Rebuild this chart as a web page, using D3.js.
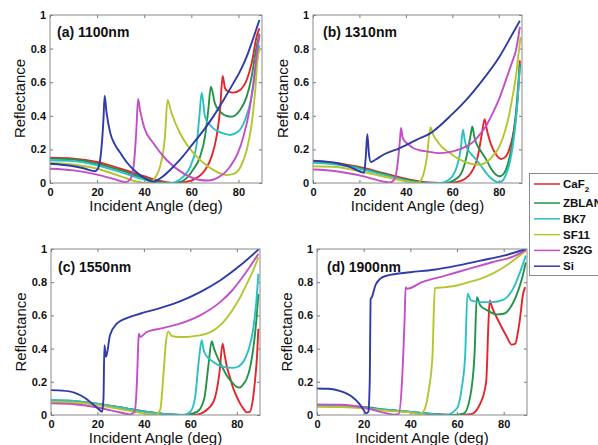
<!DOCTYPE html>
<html>
<head>
<meta charset="utf-8">
<script src="https://cdn.jsdelivr.net/npm/d3@7"></script>
<style>
  body { margin: 0; background: #fff; }
  svg { display: block; font-family: "Liberation Sans", Arial, sans-serif; }
  .tick text { font-weight: bold; font-size: 11px; fill: #111; }
  .tick line { stroke: #777; }
</style>
</head>
<body>
<div id="chart"></div>
<script>
let width = 598,
	height = 445;

// materials and their line colours
let materials = ["CaF2", "ZBLAN", "BK7", "SF11", "2S2G", "Si"];
let colors = ["#e3262d", "#23934a", "#2cc0c6", "#b5c52f", "#c34fc6", "#2f3ba6"];

let xTicks = [0, 20, 40, 60, 80];
let yTicks = [0, 0.2, 0.4, 0.6, 0.8, 1];

// [angle (deg), reflectance], one list per material
let panelA = [
	[[0,.15],[10,.145],[20,.125],[30,.085],[40,.04],[47,.012],[53,0],[57,.005],[61,.02],[65.8,.077],[68.6,.157],[70.7,.276],[72.2,.435],[73.3,.637],[74.3,.564],[75.7,.544],[77.8,.538],[80.7,.554],[83.5,.613],[85.6,.712],[87.7,.87],[88.9,.92]],
	[[0,.145],[10,.14],[20,.115],[30,.075],[40,.03],[47,.005],[52,0],[56,.01],[60.8,.08],[63.7,.157],[65.8,.276],[67.2,.435],[68.3,.573],[70,.474],[72.2,.425],[75,.399],[77.1,.395],[80.7,.435],[83.5,.514],[85.6,.633],[87.4,.79],[88.9,.89]],
	[[0,.135],[10,.13],[20,.105],[30,.065],[40,.02],[46,0],[51,0],[56.6,.038],[60.1,.117],[62.3,.236],[63.4,.395],[64.4,.537],[65.8,.395],[67.9,.345],[71.5,.306],[74.3,.292],[76.4,.286],[79.9,.306],[82.8,.375],[85.6,.514],[87.7,.712],[88.9,.82]],
	[[0,.12],[10,.11],[20,.085],[30,.04],[37,.008],[42.4,0],[45,.04],[46.7,.097],[48.8,.276],[49.9,.494],[51.5,.42],[55.2,.296],[58.5,.22],[62.3,.157],[66,.11],[69.3,.078],[72,.058],[75,.048],[78.5,.058],[81,.1],[83.5,.196],[85.5,.34],[87,.53],[88.4,.77],[89.3,.8]],
	[[0,.085],[10,.075],[20,.05],[28,.02],[32,.005],[34,.02],[35.5,.1],[36.6,.3],[37.4,.5],[38.2,.435],[40,.33],[43.9,.236],[49.5,.137],[56.6,.057],[63.7,.018],[67,.015],[70.7,.028],[76.4,.097],[79.5,.17],[82.1,.276],[84.5,.42],[86.3,.593],[88.4,.83],[89,.88]],
	[[0,.115],[10,.10],[15,.085],[19,.07],[20.5,.09],[21.8,.2],[22.7,.38],[23.2,.52],[24,.42],[25.6,.297],[27.5,.23],[29.9,.178],[32.5,.125],[35.5,.079],[38.5,.045],[41.2,.02],[43.9,.008],[47,.03],[52.4,.097],[56.5,.16],[60.8,.236],[65,.31],[69.3,.395],[73.5,.49],[77.8,.593],[80.5,.66],[83.5,.752],[86,.85],[88.9,.97]]
];

let panelB = [
	[[0,.13],[10,.12],[20,.095],[30,.06],[40,.025],[50,.003],[58,0],[63,.01],[68,.06],[71,.16],[72.8,.3],[73.9,.38],[75,.31],[76,.257],[78.9,.168],[81,.143],[83.1,.158],[84.5,.2],[86,.277],[87.2,.38],[88.1,.495],[89.1,.73]],
	[[0,.125],[10,.115],[20,.09],[30,.055],[40,.02],[50,0],[57,0],[63,.04],[66,.15],[67.8,.28],[68.6,.337],[69.4,.28],[70.3,.238],[72.5,.185],[74.6,.139],[76.5,.09],[78.1,.059],[80.3,.04],[81.8,.05],[83.1,.079],[84.6,.15],[86,.257],[87.2,.39],[88.1,.535],[89.1,.71]],
	[[0,.12],[10,.11],[20,.085],[30,.05],[40,.015],[48,0],[55,0],[58,.015],[60,.04],[62,.1],[63.6,.2],[64.6,.317],[65.3,.26],[66,.218],[68,.175],[70.3,.139],[72.5,.1],[74.6,.059],[77.4,.02],[80,.004],[81.7,.015],[83.1,.05],[84.7,.12],[86,.218],[87.2,.35],[88.1,.495],[89.1,.69]],
	[[0,.10],[10,.095],[20,.07],[30,.04],[40,.01],[45,0],[47,.03],[49,.15],[50.6,.33],[51.7,.29],[53.1,.257],[55.5,.215],[58.9,.178],[62.5,.145],[66,.123],[69,.112],[71.7,.109],[74,.118],[76,.139],[78,.17],[80.3,.218],[82.5,.3],[84.6,.416],[86,.52],[87.4,.634],[88.6,.78],[89.4,.87]],
	[[0,.08],[10,.07],[20,.045],[30,.01],[33,.003],[35,.02],[36.5,.12],[37.4,.25],[37.9,.327],[38.6,.27],[39.6,.248],[41.5,.225],[43.1,.208],[46,.195],[48.9,.188],[54.6,.178],[60.3,.188],[66,.218],[69,.245],[71.7,.287],[74.5,.34],[77.4,.416],[80.3,.505],[83.1,.614],[85.5,.71],[87.4,.79],[89.1,.93]],
	[[0,.133],[10,.119],[15,.1],[20,.07],[22,.06],[22.7,.15],[23.4,.29],[24.1,.17],[24.9,.125],[27,.14],[30.3,.168],[37.4,.208],[44.6,.257],[51.7,.307],[55,.345],[58.9,.396],[66,.495],[73.1,.614],[80.3,.752],[86,.89],[89.1,.966]]
];

let panelC = [
	[[0,.088],[10,.083],[20,.068],[30,.045],[40,.022],[48,.008],[55,0],[62,0],[66,.02],[70,.08],[72.5,.25],[73.9,.43],[74.8,.36],[75.6,.3],[77,.23],[78.5,.16],[80,.11],[81.4,.07],[83,.035],[84.3,.016],[85.7,.02],[86.8,.08],[87.8,.2],[88.7,.35],[89.3,.52]],
	[[0,.085],[10,.08],[20,.065],[30,.045],[40,.022],[50,.005],[58,0],[63,.02],[66,.1],[67.8,.3],[69.2,.444],[70.2,.4],[71.3,.36],[73.5,.295],[75.6,.24],[77.8,.2],[79.9,.17],[81.4,.166],[82.8,.185],[84.3,.22],[85.8,.29],[87.1,.4],[88.3,.55],[89.3,.73]],
	[[0,.09],[10,.085],[20,.068],[30,.045],[40,.022],[50,.005],[57,0],[60,.02],[62,.1],[63.6,.32],[64.9,.45],[65.6,.4],[66.3,.37],[69.9,.32],[74.2,.29],[78.5,.284],[81,.295],[82.8,.32],[85,.39],[87.1,.52],[88.4,.68],[89.3,.85]],
	[[0,.08],[10,.075],[20,.06],[30,.035],[40,.01],[45,.002],[47,.03],[48.5,.26],[49.5,.44],[50.5,.504],[52,.476],[55,.47],[58.4,.47],[63,.478],[67,.49],[70,.51],[72.8,.54],[75.5,.58],[78.5,.64],[81.5,.71],[84.3,.79],[87,.87],[89.3,.95]],
	[[0,.07],[10,.065],[20,.045],[30,.015],[34,.004],[36,.02],[37,.2],[37.5,.4],[37.8,.49],[38.4,.47],[41.2,.5],[46.9,.52],[55.5,.55],[64.2,.6],[72.8,.68],[78,.75],[81.4,.81],[85.5,.89],[89.3,.97]],
	[[0,.15],[5,.147],[10,.135],[15,.1],[18,.065],[20,.042],[22,.02],[22.6,.1],[23,.42],[23.7,.35],[25.4,.48],[28.3,.55],[32.6,.584],[38.3,.61],[46.9,.644],[55.5,.684],[64.2,.74],[72.8,.81],[81.4,.9],[89.3,.996]]
];

let panelD = [
	[[0,.055],[10,.053],[20,.045],[30,.03],[40,.018],[50,.006],[60,0],[66,.005],[70,.07],[72.5,.2],[73.5,.56],[74,.69],[75,.65],[78,.56],[81,.48],[83.5,.424],[85,.43],[86,.49],[87,.58],[88.2,.72],[89.2,.77]],
	[[0,.058],[10,.056],[20,.048],[30,.032],[40,.018],[50,.005],[58,0],[63,.01],[65.5,.1],[67.5,.36],[68.5,.71],[70,.66],[73,.63],[77,.606],[80,.61],[83,.65],[86,.74],[88,.83],[89.5,.92]],
	[[0,.06],[10,.058],[20,.045],[30,.03],[40,.02],[50,.005],[55,0],[60,.04],[62,.16],[63.5,.36],[64.5,.73],[66,.69],[70,.68],[75,.68],[80,.695],[84,.76],[87,.86],[89.5,.96]],
	[[0,.05],[10,.048],[20,.04],[30,.025],[40,.015],[44,.005],[46,.03],[48,.16],[49.5,.36],[50.5,.764],[55,.77],[60,.78],[65,.8],[70,.82],[75,.85],[80,.89],[85,.94],[89.5,.99]],
	[[0,.064],[10,.062],[20,.045],[30,.01],[33,.002],[35,.005],[36.5,.22],[37.5,.56],[38,.77],[38.5,.76],[45,.8],[55,.84],[65,.88],[75,.92],[85,.96],[89.5,.995]],
	[[0,.16],[5,.158],[10,.144],[15,.11],[18,.07],[20,.03],[21,.01],[22,.02],[22.6,.2],[23,.7],[23.5,.71],[25,.78],[27,.82],[30,.84],[40,.86],[50,.875],[60,.9],[70,.93],[80,.96],[89.5,1.0]]
];

let titles = ["(a) 1100nm", "(b) 1310nm", "(c) 1550nm", "(d) 1900nm"];

let panels = [
	{ x: 50, y: 15, w: 212, h: 168, xlab: 211, data: panelA },
	{ x: 313, y: 15, w: 209, h: 168, xlab: 211, data: panelB },
	{ x: 51, y: 249, w: 209, h: 166, xlab: 443, data: panelC },
	{ x: 317, y: 249, w: 210, h: 166, xlab: 443, data: panelD }
];

let svg = d3.select('#chart').append('svg')
	.attr('width', width)
	.attr('height', height);

let line = d3.line().curve(d3.curveMonotoneX);

panels.forEach(function (p, i) {
	let x = d3.scaleLinear().domain([0, 90]).range([0, p.w]);
	let y = d3.scaleLinear().domain([0, 1]).range([p.h, 0]);

	let g = svg.append('g').attr('transform', 'translate(' + p.x + ',' + p.y + ')');

	g.append('clipPath').attr('id', 'clip' + i)
		.append('rect').attr('width', p.w).attr('height', p.h);

	// inward ticks on all four sides, MATLAB style
	g.append('g').attr('transform', 'translate(0,' + p.h + ')')
		.call(d3.axisBottom(x).tickValues(xTicks).tickSize(-3).tickPadding(5).tickFormat(d3.format('d')))
		.call(a => a.select('.domain').remove());
	g.append('g')
		.call(d3.axisTop(x).tickValues(xTicks).tickSize(-3).tickFormat(''))
		.call(a => a.select('.domain').remove());
	g.append('g')
		.call(d3.axisLeft(y).tickValues(yTicks).tickSize(-3).tickPadding(4).tickFormat(d3.format('~g')))
		.call(a => a.select('.domain').remove());
	g.append('g').attr('transform', 'translate(' + p.w + ',0)')
		.call(d3.axisRight(y).tickValues(yTicks).tickSize(-3).tickFormat(''))
		.call(a => a.select('.domain').remove());

	g.selectAll('.tick text').attr('font-family', null).attr('font-size', null);

	g.append('g').attr('clip-path', 'url(#clip' + i + ')')
		.selectAll('path')
		.data(p.data)
		.enter().append('path')
		.attr('fill', 'none')
		.attr('stroke', function (d, k) { return colors[k]; })
		.attr('stroke-width', 1.9)
		.attr('d', function (d) {
			return line(d.map(function (v) { return [x(v[0]), y(v[1])]; }));
		});

	g.append('rect')
		.attr('width', p.w).attr('height', p.h)
		.attr('fill', 'none').attr('stroke', '#8a8a8a').attr('stroke-width', 1);

	g.append('text')
		.attr('x', 7 + (i % 2) * 3).attr('y', i < 2 ? 22 : 23)
		.attr('font-size', 14).attr('font-weight', 'bold').attr('fill', '#111')
		.text(titles[i]);

	svg.append('text')
		.attr('x', p.x + p.w / 2).attr('y', p.xlab)
		.attr('text-anchor', 'middle').attr('font-size', 15).attr('fill', '#111')
		.text('Incident Angle (deg)');

	svg.append('text')
		.attr('transform', 'translate(' + (p.x - 25) + ',' + (p.y + p.h / 2 - 0.5 * (i < 2 ? 1 : 0)) + ') rotate(-90)')
		.attr('text-anchor', 'middle').attr('font-size', 15).attr('fill', '#111')
		.text('Reflectance');
});

// legend, cut by the right edge as in the figure
let legend = svg.append('g');
legend.append('rect')
	.attr('x', 529.5).attr('y', 173.5).attr('width', 90).attr('height', 102)
	.attr('fill', '#fff').attr('stroke', '#8a8a8a');

materials.forEach(function (m, k) {
	let ly = k === 0 ? 184 : 203 + (k - 1) * 15.8;
	legend.append('line')
		.attr('x1', 534).attr('x2', 560).attr('y1', ly).attr('y2', ly)
		.attr('stroke', colors[k]).attr('stroke-width', 1.5);
	let t = legend.append('text')
		.attr('x', 563).attr('y', ly + 4)
		.attr('font-size', 11.5).attr('font-weight', 'bold').attr('fill', '#111');
	if (m === "CaF2") {
		t.text('CaF');
		t.append('tspan').attr('font-size', 8).attr('dy', 4).text('2');
	} else {
		t.text(m);
	}
});
</script>
</body>
</html>
